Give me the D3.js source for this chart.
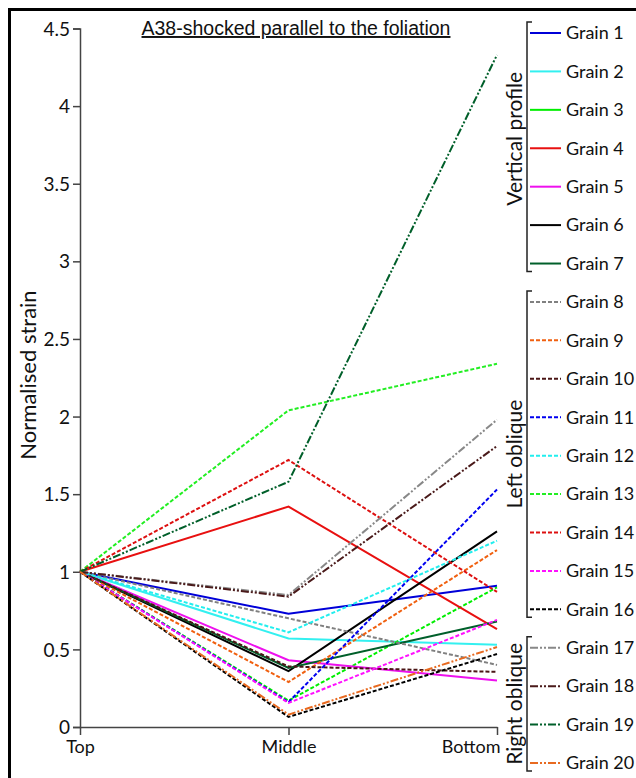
<!DOCTYPE html>
<html>
<head>
<meta charset="utf-8">
<script src="https://cdn.jsdelivr.net/npm/d3@7"></script>
<style>
	body { margin: 0; background: #fff; }
	text { font-family: Lato, "Open Sans", sans-serif; fill: #111; }
	.title { font-family: "Liberation Sans", Arial, sans-serif; }
</style>
</head>
<body>
<svg></svg>
<script>
const positions = ["Top", "Middle", "Bottom"]
const grains = ["Grain 1", "Grain 2", "Grain 3", "Grain 4", "Grain 5", "Grain 6", "Grain 7",
	"Grain 8", "Grain 9", "Grain 10", "Grain 11", "Grain 12", "Grain 13", "Grain 14", "Grain 15", "Grain 16",
	"Grain 17", "Grain 18", "Grain 19", "Grain 20"]
const groups = ["Vertical profile", "Vertical profile", "Vertical profile", "Vertical profile", "Vertical profile", "Vertical profile", "Vertical profile",
	"Left oblique", "Left oblique", "Left oblique", "Left oblique", "Left oblique", "Left oblique", "Left oblique", "Left oblique", "Left oblique",
	"Right oblique", "Right oblique", "Right oblique", "Right oblique"]
// strain at Top, Middle, Bottom
const strain = [
	[1, 0.73, 0.91],
	[1, 0.57, 0.53],
	[1, 0.17, 0.90],
	[1, 1.42, 0.63],
	[1, 0.43, 0.30],
	[1, 0.36, 1.26],
	[1, 0.38, 0.68],
	[1, 0.70, 0.40],
	[1, 0.29, 1.14],
	[1, 0.39, 0.355],
	[1, 0.16, 1.53],
	[1, 0.61, 1.20],
	[1, 2.04, 2.34],
	[1, 1.72, 0.87],
	[1, 0.155, 0.69],
	[1, 0.065, 0.47],
	[1, 0.85, 1.98],
	[1, 0.84, 1.81],
	[1, 1.58, 4.33],
	[1, 0.08, 0.515]
]
const yTicks = [0, 0.5, 1, 1.5, 2, 2.5, 3, 3.5, 4, 4.5]

const colors = ["#0000d8", "#33f0f0", "#00ee00", "#e81010", "#ee10ee", "#000000", "#005f2a",
	"#808080", "#f06010", "#4a1515", "#0000f0", "#22eeee", "#22ee22", "#dd1010", "#ff10ff", "#000000",
	"#888888", "#4a1a1a", "#005f2a", "#e86a20"]
const dashes = { "Vertical profile": null, "Left oblique": "4,2", "Right oblique": "8,2,2,2,2,2" }

const svg = d3.select("svg")
	.attr("width", 636)
	.attr("height", 778)

// outer frame
svg.append("rect")
	.attr("x", 9.5)
	.attr("y", 9.5)
	.attr("width", 700)
	.attr("height", 900)
	.style("fill", "none")
	.style("stroke", "#000")
	.style("stroke-width", 3)

const x = d3.scalePoint()
	.domain(positions)
	.range([80, 497])

const y = d3.scaleLinear()
	.domain([0, 4.5])
	.range([727, 28.5])

const yAxis = svg.append("g")
	.attr("transform", "translate(80, 0)")
	.call(d3.axisLeft(y).tickValues(yTicks).tickSize(7).tickFormat(d => d))
const xAxis = svg.append("g")
	.attr("transform", "translate(0, 727)")
	.call(d3.axisBottom(x).tickSize(8).tickSizeOuter(0))

svg.selectAll(".domain, .tick line")
	.style("stroke", "#444")
	.style("stroke-width", 1.5)
yAxis.selectAll("text")
	.style("font-size", "19px")
	.attr("x", -10)
	.attr("dy", "0.35em")
xAxis.selectAll("text")
	.style("font-size", "18px")
	.attr("y", 13)
// last label sits left of its tick, as in the reference
xAxis.selectAll("text")
	.filter(d => d === "Bottom")
	.attr("text-anchor", "end")
	.attr("x", 3)

svg.append("text")
	.attr("transform", "translate(36, 375) rotate(-90)")
	.attr("text-anchor", "middle")
	.style("font-size", "22px")
	.text("Normalised strain")

svg.append("text")
	.attr("class", "title")
	.attr("x", 296)
	.attr("y", 35)
	.attr("text-anchor", "middle")
	.style("font-size", "19.5px")
	.style("text-decoration", "underline")
	.text("A38-shocked parallel to the foliation")

const lineGenerator = d3.line()
	.x((d, i) => x(positions[i]))
	.y(d => y(d))

// the reference draws both bright green series dashed
const plotDash = (i) => i === 2 ? "4,2" : dashes[groups[i]]

svg.append("g")
	.selectAll("path")
	.data(strain)
	.enter()
	.append("path")
	.attr("d", d => lineGenerator(d))
	.style("fill", "none")
	.style("stroke", (d, i) => colors[i])
	.style("stroke-width", 2)
	.style("stroke-dasharray", (d, i) => plotDash(i))

// legend
const legendY = d3.scalePoint()
	.domain(grains)
	.range([33, 763])

const items = svg.append("g")
	.selectAll("g")
	.data(grains)
	.enter()
	.append("g")
	.attr("transform", d => `translate(0, ${legendY(d)})`)

items.append("line")
	.attr("x1", 530)
	.attr("x2", 561)
	.style("stroke", (d, i) => colors[i])
	.style("stroke-width", 2)
	.style("stroke-dasharray", (d, i) => dashes[groups[i]])

items.append("text")
	.attr("x", 566)
	.attr("dy", "0.35em")
	.style("font-size", "18px")
	.text(d => d)

const groupNames = ["Vertical profile", "Left oblique", "Right oblique"]
const brackets = svg.append("g")
	.selectAll("g")
	.data(groupNames)
	.enter()
	.append("g")

const span = (g) => {
	const members = grains.filter((d, i) => groups[i] === g)
	return [legendY(members[0]) - 11, legendY(members[members.length - 1]) + 8]
}

brackets.append("path")
	.attr("d", g => { const s = span(g); return `M532,${s[0]}H527V${s[1]}H532` })
	.style("fill", "none")
	.style("stroke", "#222")
	.style("stroke-width", 1.5)

brackets.append("text")
	.attr("transform", (g, i) => { const s = span(g); return `translate(522, ${(s[0] + s[1]) / 2 - (i === 0 ? 8 : 0)}) rotate(-90)` })
	.attr("text-anchor", "middle")
	.style("font-size", "21px")
	.text(g => g)
</script>
</body>
</html>
